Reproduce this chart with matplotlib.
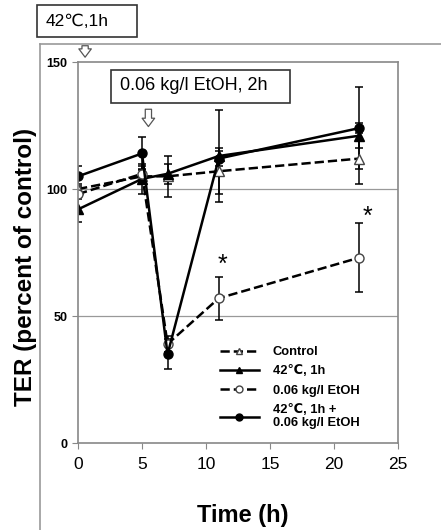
import numpy as np
import matplotlib.pyplot as plt
from matplotlib.lines import Line2D
from matplotlib.patches import Rectangle

plt.rcParams['font.family'] = ['Liberation Sans', 'DejaVu Sans']

t = [0, 5, 7, 11, 22]
control = [100, 105, 105, 107, 112]
control_err = [2, 3, 8, 9, 10]
heat = [92, 104, 106, 113, 121]
heat_err = [5, 6, 4, 18, 5]
etoh = [98, 106, 39, 57, 73]
etoh_err = [2, 3, 3, 8.5, 13.5]
combo = [105, 114, 35, 112, 124]
combo_err = [4, 6.5, 6, 3, 16]
star_t = [11.3, 22.6]
star_y = [70, 89]

W, H = 441, 530
fig = plt.figure(figsize=(4.41, 5.30), dpi=100)
ax = fig.add_axes([0.177, 0.164, 0.725, 0.719])

# outer gray frame (from original slide)
fig.add_artist(Line2D([40/W, 40/W], [0, 1-44/H], color='#999999', lw=1.2))
fig.add_artist(Line2D([40/W, 1], [1-44/H, 1-44/H], color='#999999', lw=1.2))

for y in [50, 100]:
    ax.axhline(y, color='#999999', lw=0.9, zorder=0)

kw = dict(color='black', lw=1.8, capsize=3, elinewidth=1.1, capthick=1.1, markersize=6.5)
ax.errorbar(t, control, yerr=control_err, fmt='--^', mfc='white', mec='#444444', **kw)
ax.errorbar(t, heat, yerr=heat_err, fmt='-^', mfc='black', **kw)
ax.errorbar(t, etoh, yerr=etoh_err, fmt='--o', mfc='white', mec='#444444', **kw)
ax.errorbar(t, combo, yerr=combo_err, fmt='-o', mfc='black', **kw)

for x, y in zip(star_t, star_y):
    ax.text(x, y, '*', fontsize=18, ha='center', va='center')

ax.set_xlim(0, 25)
ax.set_ylim(0, 150)
ax.set_xticks([0, 5, 10, 15, 20, 25])
ax.set_yticks([0, 50, 100, 150])
for s in ax.spines.values():
    s.set_color('#888888')
    s.set_linewidth(1.2)
ax.tick_params(axis='both', colors='#888888', length=4, labelcolor='black')
ax.tick_params(axis='x', labelsize=12.5, pad=6)
ax.tick_params(axis='y', labelsize=9)
for lab in ax.get_yticklabels():
    lab.set_fontweight('bold')

ax.set_xlabel('Time (h)', fontsize=17, fontweight='bold')
ax.xaxis.set_label_coords(0.515, -0.16)
ax.set_ylabel('TER (percent of control)', fontsize=17.5, fontweight='bold')
ax.yaxis.set_label_coords(-0.128, 0.462)

handles = [
    Line2D([], [], color='black', ls='--', lw=1.8, marker='^', ms=5, mfc='white', mec='#444444'),
    Line2D([], [], color='black', ls='-', lw=1.8, marker='^', ms=5, mfc='black'),
    Line2D([], [], color='black', ls='--', lw=1.8, marker='o', ms=5, mfc='white', mec='#444444'),
    Line2D([], [], color='black', ls='-', lw=1.8, marker='o', ms=5, mfc='black'),
]
labels = ['Control', '42℃, 1h', '0.06 kg/l EtOH', '42℃, 1h +\n0.06 kg/l EtOH']
ax.legend(handles, labels, loc='lower left', bbox_to_anchor=(0.415, 0.012), frameon=False,
          prop={'weight': 'bold', 'size': 9.3}, handlelength=3.0,
          labelspacing=0.55, handletextpad=1.1, borderpad=0.2)

# annotation boxes and hollow arrows
fig.add_artist(Rectangle((37/W, 1-37/H), 100/W, 32/H, transform=fig.transFigure,
                         fc='white', ec='#333333', lw=1.2))
fig.text(46/W, 1-21/H, '42℃,1h', fontsize=12.5, ha='left', va='center')
fig.add_artist(Rectangle((111/W, 1-103/H), 179/W, 33/H, transform=fig.transFigure,
                         fc='white', ec='#333333', lw=1.2, zorder=5))
fig.text(120/W, 1-86/H, '0.06 kg/l EtOH, 2h', fontsize=13, ha='left', va='center', zorder=6)
ap = dict(arrowstyle='simple,head_width=0.9,head_length=0.6,tail_width=0.45',
          fc='white', ec='#555555', lw=0.9)
ax.annotate('', xy=(0.55, 150.8), xytext=(0.55, 157.5), arrowprops=ap, annotation_clip=False)
ax.annotate('', xy=(5.5, 123.5), xytext=(5.5, 132.5), arrowprops=ap)

fig.savefig('out.png', dpi=100)
